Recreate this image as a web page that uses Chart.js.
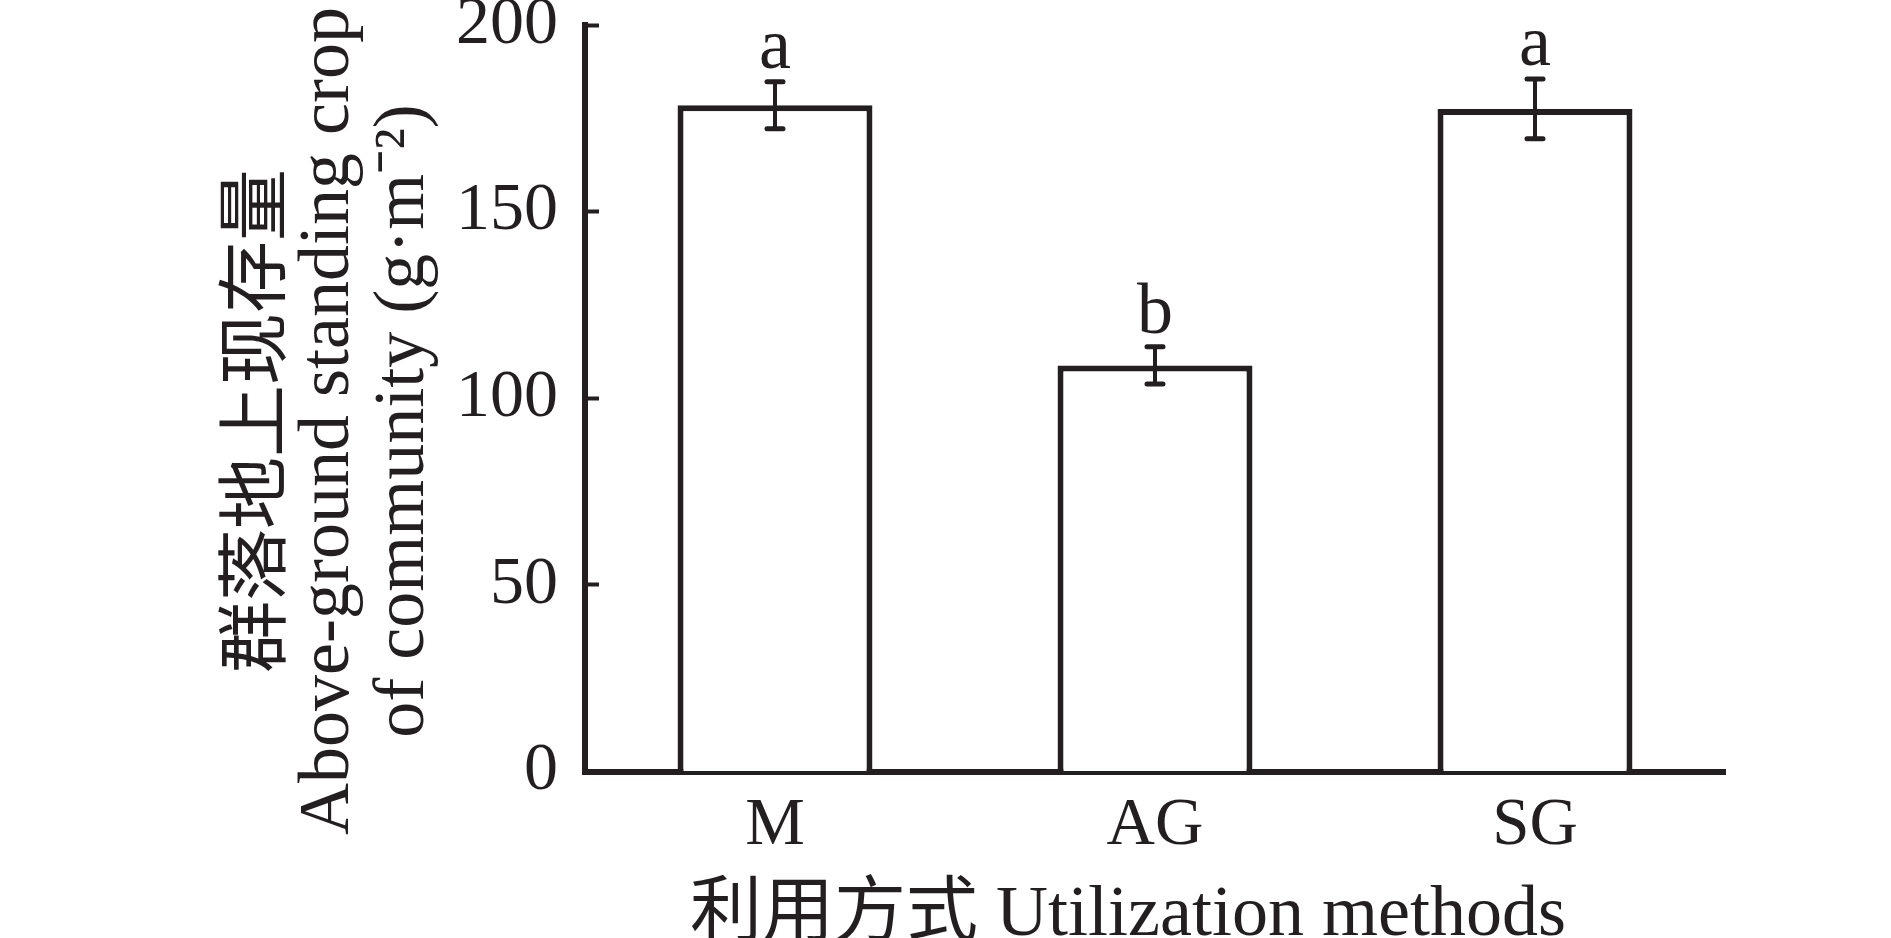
<!DOCTYPE html>
<html>
<head>
<meta charset="utf-8">
<script src="https://cdn.jsdelivr.net/npm/chart.js@4.4.0/dist/chart.umd.min.js"></script>
<style>
  html, body { margin: 0; padding: 0; background: #fff; }
  #wrap { width: 1891px; height: 938px; position: relative; }
</style>
</head>
<body>
<div id="wrap"><canvas id="myChart"></canvas></div>
<script>
// utilization methods
const categories = ["M", "AG", "SG"];
// above-ground standing crop of community (g·m-2), mean and error
const standingCrop = [178.5, 108.8, 177.5];
const standingCropErr = [6.3, 5.0, 8.0];
// significance letters over the bars
const signifLetters = ["a", "b", "a"];
const yTicks = [0, 50, 100, 150, 200];
const yTitleLines = ["群落地上现存量", "Above-ground standing crop", "of community (g·m⁻²)"];
const xTitle = "利用方式 Utilization methods";

const INK = "#231f20";
const SERIF = "'Liberation Serif', 'Noto Sans CJK SC', serif";

// error bars and letters, placed through the y scale
const errorBarPlugin = {
  id: "errorBars",
  afterDatasetsDraw(chart) {
    const ctx = chart.ctx;
    const meta = chart.getDatasetMeta(0);
    const yScale = chart.scales.y;
    ctx.save();
    ctx.strokeStyle = INK;
    ctx.fillStyle = INK;
    ctx.lineCap = "round";
    meta.data.forEach((bar, i) => {
      const x = bar.x;
      const top = yScale.getPixelForValue(standingCrop[i] + standingCropErr[i]);
      const bottom = yScale.getPixelForValue(standingCrop[i] - standingCropErr[i]);
      ctx.lineWidth = 4;
      ctx.beginPath();
      ctx.moveTo(x, top);
      ctx.lineTo(x, bottom);
      ctx.stroke();
      ctx.lineWidth = 5;
      ctx.beginPath();
      ctx.moveTo(x - 8, top);
      ctx.lineTo(x + 8, top);
      ctx.moveTo(x - 8, bottom);
      ctx.lineTo(x + 8, bottom);
      ctx.stroke();
      ctx.font = "72px " + SERIF;
      ctx.textAlign = "center";
      ctx.textBaseline = "alphabetic";
      ctx.fillText(signifLetters[i], x, top - 14);
    });
    ctx.restore();
  }
};

// rotated three-line y title (too long for the scale's own title box)
const yTitlePlugin = {
  id: "yTitle",
  afterDraw(chart, args, opts) {
    const ctx = chart.ctx;
    ctx.save();
    ctx.fillStyle = opts.color;
    ctx.font = opts.font;
    ctx.textAlign = "center";
    ctx.textBaseline = "middle";
    opts.lines.forEach((line, i) => {
      ctx.save();
      ctx.translate(opts.x[i], opts.y);
      ctx.rotate(-Math.PI / 2);
      ctx.fillText(line, 0, 0);
      ctx.restore();
    });
    ctx.restore();
  }
};

let ctx = document.getElementById("myChart").getContext("2d");
let chart = new Chart(ctx, {
  type: "bar",
  data: {
    labels: categories,
    datasets: [
      {
        data: standingCrop,
        backgroundColor: "#ffffff",
        borderColor: INK,
        borderWidth: 6,
        borderSkipped: "start",
        barPercentage: 0.513,
        categoryPercentage: 1
      }
    ]
  },
  options: {
    responsive: true,
    maintainAspectRatio: false,
    animation: false,
    layout: { padding: { left: 0, top: 25, right: 166, bottom: 0 } },
    plugins: {
      legend: { display: false },
      tooltip: { enabled: false },
      yTitle: {
        lines: yTitleLines,
        x: [260, 329, 404],
        y: 421,
        font: "72px " + SERIF,
        color: INK
      }
    },
    scales: {
      x: {
        offset: true,
        grid: {
          display: true,
          offset: false,
          drawOnChartArea: false,
          drawTicks: true,
          tickLength: -14,
          tickWidth: 4,
          tickColor: INK
        },
        border: { display: true, color: INK, width: 6 },
        ticks: {
          color: INK,
          padding: 29,
          font: { family: SERIF, size: 67, lineHeight: 1.2 }
        },
        title: {
          display: true,
          text: xTitle + "   ",
          color: INK,
          padding: { top: 0, bottom: 0 },
          font: { family: SERIF, size: 72, lineHeight: 0.62 }
        },
        afterFit(scale) {
          scale.height = 166.5;
          scale.paddingLeft = 0;
          scale.paddingRight = 0;
        }
      },
      y: {
        min: 0,
        max: 200,
        afterBuildTicks(scale) {
          scale.ticks = yTicks.map(v => ({ value: v }));
        },
        grid: {
          display: true,
          drawOnChartArea: false,
          drawTicks: true,
          tickLength: -14,
          tickWidth: 4,
          tickColor: INK
        },
        border: { display: true, color: INK, width: 6 },
        ticks: {
          color: INK,
          padding: 41,
          font: { family: SERIF, size: 68, lineHeight: 1.2 }
        },
        afterFit(scale) {
          scale.width = 585;
          scale.paddingTop = 0;
          scale.paddingBottom = 0;
        }
      }
    }
  },
  plugins: [errorBarPlugin, yTitlePlugin]
});
</script>
</body>
</html>
